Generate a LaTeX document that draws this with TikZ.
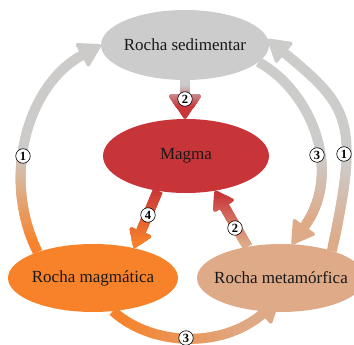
\documentclass[tikz,border=0pt]{standalone}
\usepackage{fontspec}
\setmainfont{Liberation Serif}
\usetikzlibrary{shapes.geometric,arrows.meta,calc}
\definecolor{cGray}{HTML}{CCCCCC}
\definecolor{cRed}{HTML}{C83539}
\definecolor{cOrange}{HTML}{F7822A}
\definecolor{cTan}{HTML}{DEAA87}
\pgfdeclarelayer{bg}
\pgfsetlayers{bg,main}
% vertical colour gradient along a connector: #1 style, #2 y start, #3 y end, #4 top colour, #5 bottom colour, #6 path
\newcommand\vgradconn[6]{%
  \foreach \k in {0,...,39}{%
    \pgfmathsetmacro\gya{\k==0 ? -1000 : #2+(#3-#2)*\k/40-0.6}%
    \pgfmathsetmacro\gyb{\k==39 ? 1000 : #2+(#3-#2)*(\k+1)/40+0.6}%
    \pgfmathtruncatemacro\gpc{round(100*(\k+0.5)/40)}%
    \begin{scope}
      \clip (-200,\gya) rectangle (600,\gyb);
      \draw[#1, draw=#5!\gpc!#4] #6;
    \end{scope}}}
% horizontal colour gradient: #4 left colour, #5 right colour
\newcommand\hgradconn[6]{%
  \foreach \k in {0,...,39}{%
    \pgfmathsetmacro\gxa{\k==0 ? -1000 : #2+(#3-#2)*\k/40-0.6}%
    \pgfmathsetmacro\gxb{\k==39 ? 1000 : #2+(#3-#2)*(\k+1)/40+0.6}%
    \pgfmathtruncatemacro\gpc{round(100*(\k+0.5)/40)}%
    \begin{scope}
      \clip (\gxa,-200) rectangle (\gxb,600);
      \draw[#1, draw=#5!\gpc!#4] #6;
    \end{scope}}}
\begin{document}
\begin{tikzpicture}[x=1pt,y=-1pt,
  rock/.style={ellipse,inner sep=0pt,outer sep=0pt,text=black!90,font=\fontsize{17}{20}\selectfont},
  conn/.style={line width=10pt},
  tipbig/.style={-{Triangle[width=28pt,length=24pt,line width=3.5pt,round]}},
  tipwide/.style={-{Triangle[width=34pt,length=26pt,line width=3.5pt,round]}},
  tipsmall/.style={-{Triangle[width=25pt,length=20pt,line width=3.5pt,round]}},
  num/.style={circle,draw=black,line width=0.6pt,fill=white,inner sep=0pt,minimum size=14.5pt,font=\fontsize{12.5}{12.5}\selectfont\bfseries}]
\useasboundingbox (0,0) rectangle (354,345);
\node[rock,fill=cGray,minimum width=168pt,minimum height=70pt] (sed) at (185,45) {\makebox[0pt]{Rocha sedimentar}};
\node[rock,fill=cRed,minimum width=166pt,minimum height=74pt] (mag) at (186,156) {\makebox[0pt]{Magma}};
\node[rock,fill=cOrange,minimum width=170pt,minimum height=68pt] (ign) at (93,278) {\makebox[0pt]{Rocha magmática}};
\node[rock,fill=cTan,minimum width=168pt,minimum height=68pt] (met) at (281,278) {\makebox[0pt]{Rocha metamórfica}};
\begin{pgfonlayer}{bg}
\vgradconn{conn,tipbig}{150}{245}{cGray}{cOrange}{(ign.155) .. controls (1,178) and (27,85) .. (sed.west)}
\vgradconn{conn,tipbig}{160}{245}{cGray}{cTan}{(met.28) .. controls (360,121) and (350,107) .. (sed.4)}
\vgradconn{conn,tipbig}{155}{222}{cGray}{cTan}{(sed.-13) .. controls (311,91) and (344,171) .. (met.72)}
\hgradconn{conn,tipbig}{120}{250}{cOrange}{cTan}{(ign.301) .. controls (150,345) and (220,350) .. ($(met.center)+(-2,22)$)}
\vgradconn{conn,tipwide}{86}{108}{cGray}{cRed}{(sed.south) -- (sed.south |- mag.north)}
\vgradconn{conn,tipsmall}{190}{245}{cRed}{cOrange}{(mag.231) -- (ign.36)}
\vgradconn{conn,tipsmall}{195}{245}{cRed}{cTan}{(met.137) -- (mag.-50)}
\end{pgfonlayer}
\node[num] (l1) at (23,156) {1};
\node[num] (r1) at (344,154) {1};
\node[num] (r3) at (317,155) {3};
\node[num] (b3) at (186,338) {3};
\node[num] (t2) at (185,99) {2};
\node[num] (m4) at (148,215) {4};
\node[num] (m2) at (235,228) {2};
\end{tikzpicture}
\end{document}
